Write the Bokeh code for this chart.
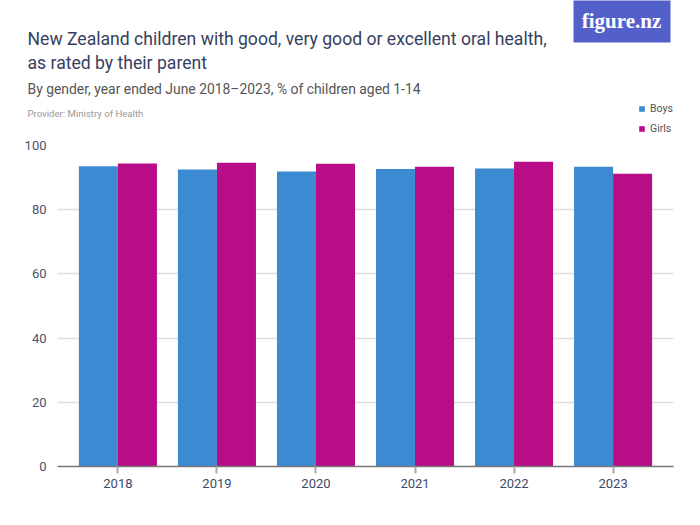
from bokeh.plotting import figure
from bokeh.layouts import column
from bokeh.models import (ColumnDataSource, Range1d, FixedTicker, Label, BoxAnnotation,
                          Legend, LegendItem)
from bokeh.transform import dodge
from bokeh.embed import file_html
from bokeh.resources import INLINE

years = [2018, 2019, 2020, 2021, 2022, 2023]
boys = [93.5, 92.5, 91.9, 92.7, 92.8, 93.4]
girls = [94.4, 94.6, 94.3, 93.4, 94.9, 91.2]
y_ticks = [0, 20, 40, 60, 80, 100]

title1 = "New Zealand children with good, very good or excellent oral health,"
title2 = "as rated by their parent"
subtitle = "By gender, year ended June 2018\u20132023, % of children aged 1-14"
provider = "Provider: Ministry of Health"

BOYS_C = "#3b8ad2"
GIRLS_C = "#b90c87"
FONT = "Roboto"
TITLE_C = "#36405d"

W = 684
HEAD_H = 137
MAIN_H = 509 - HEAD_H

src = ColumnDataSource(dict(year=years, boys=boys, girls=girls))

# ---------------- header (titles, logo, legend) ----------------
# its ranges lie far from the data, so the legend proxies below stay out of view
head = figure(width=W, height=HEAD_H, output_backend="svg", toolbar_location=None,
              title_location=None,
              x_range=Range1d(0, 1), y_range=Range1d(0, 1),
              x_axis_type=None, y_axis_type=None, min_border=0)
head.outline_line_color = None
head.grid.visible = False
head.frame_align = False


def lab(text, rx, ry, size, color, font=FONT, style="normal", align="left"):
    head.add_layout(Label(x=rx, y=HEAD_H - ry, x_units="screen", y_units="screen",
                          text=text, text_font=font, text_font_size=size,
                          text_color=color, text_font_style=style,
                          text_align=align, text_baseline="middle"))


lab(title1, 27, 38, "17.6px", TITLE_C)
lab(title2, 27, 62, "17.6px", TITLE_C)
lab(subtitle, 27, 88, "13.9px", "#555555")
lab(provider, 27, 113, "9.6px", "#999999")

head.add_layout(BoxAnnotation(left=573, right=670, top=HEAD_H + 30, bottom=HEAD_H - 42,
                              left_units="screen", right_units="screen",
                              top_units="screen", bottom_units="screen",
                              fill_color="#5460c9", fill_alpha=1, line_color=None))
lab("figure.nz", 621, 20, "21px", "white", font="Liberation Serif", style="bold",
    align="center")

lb = head.vbar(x="year", top="boys", width=0.394, source=src,
               fill_color=BOYS_C, line_color=None)
lg = head.vbar(x="year", top="girls", width=0.394, source=src,
               fill_color=GIRLS_C, line_color=None)
legend = Legend(items=[LegendItem(label="Boys", renderers=[lb], index=0),
                       LegendItem(label="Girls", renderers=[lg], index=0)],
                location=(638, HEAD_H - 135), orientation="vertical",
                glyph_width=7, glyph_height=7, label_height=12, spacing=7,
                padding=0, margin=0, label_standoff=5,
                label_text_font=FONT, label_text_font_size="10.5px",
                label_text_color="#555555",
                background_fill_alpha=0, border_line_color=None)
head.add_layout(legend, "center")

# ---------------- main chart ----------------
p = figure(width=W, height=MAIN_H, output_backend="svg", toolbar_location=None,
           x_range=Range1d(2017.39, 2023.61), y_range=Range1d(0, 100),
           min_border_left=57, min_border_right=W - 673, min_border_top=145 - HEAD_H,
           min_border_bottom=MAIN_H - (466 - HEAD_H))
p.outline_line_color = None
p.frame_align = False

p.vbar(x=dodge("year", -0.197, range=p.x_range), top="boys", width=0.394,
       source=src, fill_color=BOYS_C, line_color=None)
p.vbar(x=dodge("year", 0.197, range=p.x_range), top="girls", width=0.394,
       source=src, fill_color=GIRLS_C, line_color=None)

p.xgrid.grid_line_color = None
p.ygrid.grid_line_color = "#dddddd"
p.ygrid.grid_line_width = 1.5
p.ygrid.ticker = FixedTicker(ticks=y_ticks)

p.yaxis.ticker = FixedTicker(ticks=y_ticks)
p.yaxis.axis_line_color = None
p.yaxis.major_tick_line_color = None
p.yaxis.major_tick_out = 0
p.yaxis.major_tick_in = 0
p.yaxis.minor_tick_line_color = None
p.yaxis.minor_tick_out = 0
p.yaxis.major_label_standoff = 11
p.yaxis.major_label_text_font = FONT
p.yaxis.major_label_text_font_size = "13px"
p.yaxis.major_label_text_color = "#4a5470"

p.xaxis.ticker = FixedTicker(ticks=years)
p.xaxis.axis_line_color = "#777777"
p.xaxis.axis_line_width = 1.5
p.xaxis.major_tick_line_color = "#aaaaaa"
p.xaxis.major_tick_line_width = 2
p.xaxis.major_tick_out = 7
p.xaxis.major_tick_in = 0
p.xaxis.minor_tick_line_color = None
p.xaxis.major_label_standoff = 5
p.xaxis.major_label_text_font = FONT
p.xaxis.major_label_text_font_size = "13px"
p.xaxis.major_label_text_color = "#3d4a6b"

layout = column(head, p, spacing=0)
open("out.html", "w").write(file_html(layout, INLINE))
